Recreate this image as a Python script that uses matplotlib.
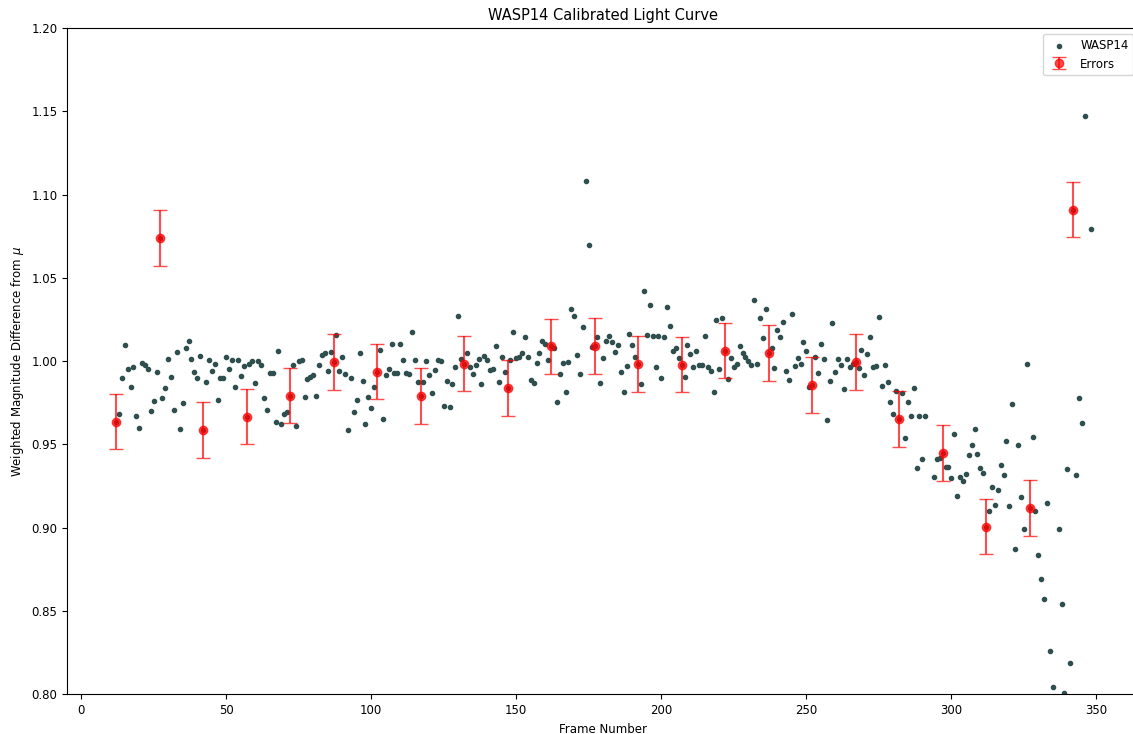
import numpy as np
import matplotlib
matplotlib.use('Agg')
import matplotlib.pyplot as plt

# one reading per frame, frames 12..348 (nan = not on the chart)
first_frame = 12
mag = [
    0.9637, 0.968, 0.990, 1.0095, 0.9953, 0.9845, 0.9963, 0.967, 0.960, 0.999,
    0.9975, 0.9953, 0.970, 0.976, 0.9933, 1.0738, 0.9777, 0.984, 1.0011, 0.9907,
    0.9705, 1.0053, 0.959, 0.9747, 1.0079, 1.012, 1.0015, 0.9937, 0.990, 1.0033,
    0.9585, 0.9875, 1.0005, 0.9943, 0.998, 0.9767, 0.990, 0.990, 1.0027, 0.995,
    1.0005, 0.9845, 1.0005, 0.991, 0.997, 0.9667, 0.998, 1.000, 0.987, 1.000,
    0.9975, 0.9777, 0.9705, 0.9927, 0.9927, 0.9633, 1.0063, 0.9621, 0.9685, 0.9693,
    0.9793, 0.9975, 0.9611, 1.0001, 1.0007, 0.9783, 0.9891, 0.9907, 0.9917, 0.9789,
    0.9975, 1.0035, 1.0049, 0.9939, 1.0055, 0.9995, 1.0157, 0.9939, 1.0025, 0.9921,
    0.9585, 0.9901, 0.9693, 0.9767, 1.0049, 0.9881, 0.9625, 0.9783, 0.9717, 0.9845,
    0.9937, 1.0069, 0.9653, 0.9917, 0.9953, 1.0101, 0.9927, 0.9931, 1.0101, 1.0005,
    0.9927, 0.9923, 1.0177, 1.0005, 0.9875, 0.9789, 0.9875, 1.0001, 0.9917, 0.9809,
    0.9947, 1.0005, 0.9999, 0.9731, 0.9883, 0.9725, 0.986, 0.9962, 1.0274, 1.001,
    0.9985, 1.0046, 0.9964, 0.9922, 0.9978, 1.001, 0.986, 1.0032, 1.0004, 0.9946,
    0.9952, 1.0088, 0.9876, 1.0026, 0.9936, 0.9838, 1.0008, 1.0172, 1.002, 1.0024,
    1.005, 1.0146, 1.0026, 0.9886, 0.9866, 0.999, 1.005, 1.0118, 1.0102, 1.0004,
    1.0088, 1.0078, 0.9755, 0.9922, 0.9986, 0.9814, 0.9994, 1.0316, 1.027, 1.0036,
    0.9922, 1.0208, 1.1084, 1.070, 1.0086, 1.009, 1.0146, 0.987, 1.002, 1.0118,
    1.0152, 1.0114, 1.0056, 1.0094, 0.9936, 0.9812, 0.9972, 1.016, 1.0098, 1.0026,
    0.9981, 0.9861, 1.0421, 1.0155, 1.0339, 1.0151, 0.9963, 1.0151, 0.9897, 1.0145,
    1.0323, 1.0213, 1.0059, 1.0079, 1.0019, 0.9979, 0.9907, 1.0099, 1.0043, 0.9963,
    1.0063, 0.9977, 0.9979, 1.0151, 0.9963, 0.9943, 0.9813, 1.0249, 0.9953, 1.0259,
    1.0063, 0.9893, 1.0021, 0.9963, 0.9981, 1.0089, 1.0047, 1.0023, 1.0003, 0.9975,
    1.0365, 0.9983, 1.0259, 1.0137, 1.0311, 1.0049, 1.0079, 0.9957, 1.0187, 1.0145,
    1.0233, 0.9943, 0.9885, 1.0281, 0.9973, 1.0021, 0.9983, 1.0115, 1.0061, 0.9847,
    0.9855, 1.0027, 0.9927, 1.0105, 1.0015, 0.9647, 0.9881, 1.0228, 0.9933, 1.0015,
    0.9979, 0.9835, 1.0015, 0.9963, 0.9981, 0.9995, 0.9957, 1.0067, 0.9917, 1.0041,
    1.0145, 0.9963, 0.9969, 1.0265, 0.9849, 0.9979, 0.9875, 0.9757, 0.9683, 0.9819,
    0.9653, 0.9807, 0.9537, 0.9755, 0.9673, 0.9839, 0.9361, 0.9669, 0.9413, 0.9673,
    np.nan, np.nan, 0.9305, 0.9413, 0.9417, 0.945, 0.9363, 0.9363, 0.9299, 0.9565,
    0.919, 0.9305, 0.9279, 0.9324, 0.9435, 0.9497, 0.9595, 0.9441, 0.9357, 0.933,
    0.9007, 0.9102, 0.9243, 0.9138, 0.9226, 0.9377, 0.9315, 0.9523, 0.9128, 0.9741,
    0.8872, 0.9497, 0.9184, 0.8992, 0.998, 0.9118, 0.9543, 0.910, 0.8836, 0.869,
    0.857, 0.9148, 0.826, 0.8042, np.nan, 0.8992, 0.854, 0.8006, 0.935, 0.8188,
    1.091, 0.9315, 0.9777, 0.963, 1.147, np.nan, 1.0793,
]
frames = np.arange(first_frame, first_frame + len(mag))

# every 15th frame gets an error bar
err_step = 15
err_size = 0.0167

mag = np.array(mag)
err_frames = frames[::err_step]
err_mag = mag[::err_step]

plt.rcParams['font.size'] = 8.5

fig = plt.figure(figsize=(11.33, 7.34), dpi=100)
ax = fig.add_axes([67.3 / 1133, 1 - 694.3 / 734, 1072 / 1133, 666.3 / 734])

ax.scatter(frames, mag, s=9, color='darkslategray', label='WASP14', zorder=2)
ax.errorbar(err_frames, err_mag, yerr=err_size, fmt='o', color='red', ecolor='red',
            alpha=0.7, capsize=5, markersize=6, label='Errors', zorder=3)

ax.set_ylim(0.8, 1.2)
ax.tick_params(labelsize=8.5)
ax.set_title('WASP14 Calibrated Light Curve', fontsize=10.5)
ax.set_xlabel('Frame Number', fontsize=8.5)
ax.set_ylabel(r'Weighted Magnitude Difference from $\mu$', fontsize=8.5)
ax.legend(loc='upper right', fontsize=8.5)

fig.savefig('out.png', dpi=100)
